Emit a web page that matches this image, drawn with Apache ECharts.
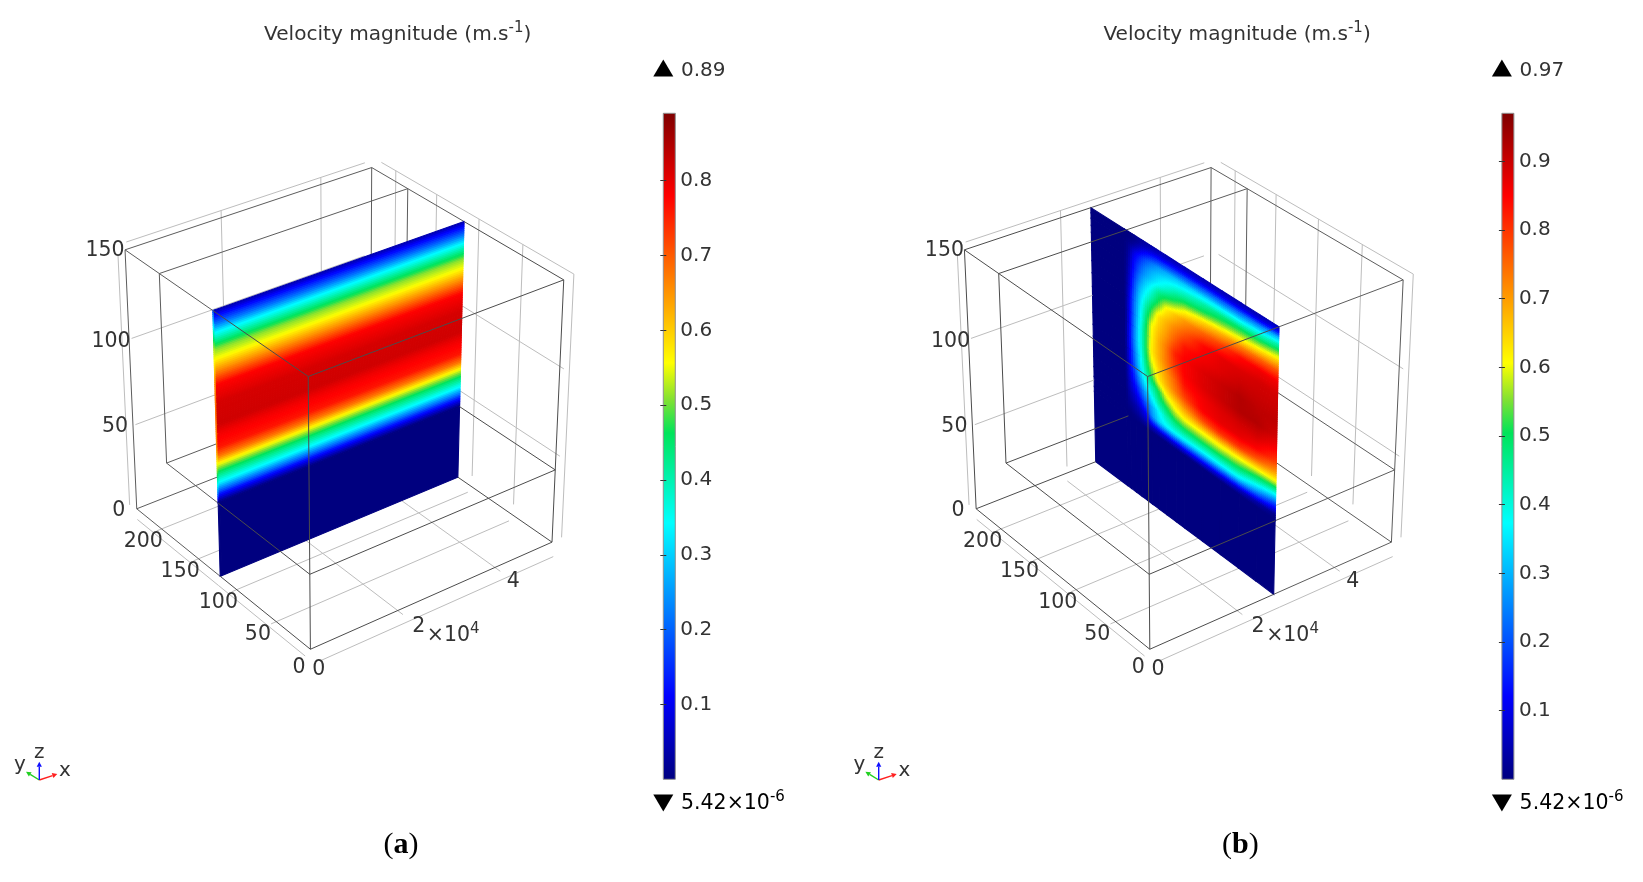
<!DOCTYPE html>
<html>
<head>
<meta charset="utf-8">
<title>Velocity magnitude</title>
<style>html,body{margin:0;padding:0;background:#fff}#main{width:1643px;height:882px}</style>
<script src="https://cdn.jsdelivr.net/npm/echarts@6/dist/echarts.min.js"></script>
</head>
<body>
<div id="main"></div>
<script>
// box extents in data units
var xMax = 51000, yMax = 225, zMax = 150;
var yWall = 180, zWall = 43;   // channel walls inside the box

var xTicks = [0, 19200, 40000];
var xTickLabels = ['0', '2', '4'];
var yTicks = [0, 50, 100, 150, 200];
var zTicks = [0, 50, 100, 150];

var barTicksA = [0.1, 0.2, 0.3, 0.4, 0.5, 0.6, 0.7, 0.8];
var barTicksB = [0.1, 0.2, 0.3, 0.4, 0.5, 0.6, 0.7, 0.8, 0.9];
var barMaxA = 0.89, barMaxB = 0.97;

// panel (a): slice at y = const, speed only varies with z (plus the thin inlet column)
var sliceYA = 112.5;
var columnXA = [0, 300, 51000];
var rowZA = [150, 147, 142, 138, 132, 128.5, 123.5, 116, 109, 103, 99, 87, 82, 74, 69, 65, 60, 54, 47, 43, 0];
var inletA = [0.30, 0.33, 0.40, 0.46, 0.52, 0.54, 0.55, 0.55, 0.55, 0.55, 0.55, 0.55, 0.55, 0.55, 0.55, 0.55, 0.52, 0.40, 0.25, 0, 0];
var coreA = [0.03, 0.11, 0.22, 0.33, 0.45, 0.51, 0.556, 0.67, 0.78, 0.80, 0.815, 0.82, 0.79, 0.76, 0.67, 0.556, 0.45, 0.33, 0.11, 0, 0];

// panel (b): slice at x = const
var sliceXB = 25400;
var columnYB = [225, 182, 177, 170, 163, 156, 149, 140, 131, 119, 108, 86, 64, 42, 21, 0];
var rowZB = [150, 147, 144, 140, 136, 131, 126, 120, 113, 105, 98, 90, 83, 76, 70, 64, 58, 52, 46, 43, 0];
var speedB = [
  [0, 0, 0, .01, .02, .03, .03, .04, .04, .04, .04, .04, .04, .04, .04, .05],
  [0, 0, 0, .01, .03, .05, .07, .08, .08, .09, .09, .09, .09, .09, .09, .12],
  [0, 0, .01, .03, .07, .11, .14, .16, .17, .18, .19, .20, .21, .22, .24, .30],
  [0, 0, .02, .09, .14, .19, .23, .27, .29, .31, .32, .34, .35, .36, .39, .44],
  [0, 0, .03, .12, .18, .24, .28, .32, .35, .38, .40, .44, .47, .49, .50, .54],
  [0, 0, .04, .14, .22, .28, .32, .37, .41, .46, .49, .52, .56, .59, .62, .66],
  [0, 0, .05, .17, .26, .33, .38, .46, .50, .54, .59, .64, .68, .72, .75, .77],
  [0, 0, .06, .20, .31, .38, .44, .52, .61, .66, .70, .75, .79, .84, .86, .86],
  [0, 0, .08, .23, .34, .44, .52, .63, .67, .72, .76, .84, .87, .88, .89, .89],
  [0, 0, .09, .24, .36, .48, .60, .66, .70, .77, .83, .86, .88, .90, .90, .90],
  [0, 0, .10, .25, .38, .50, .61, .68, .73, .82, .85, .88, .90, .92, .91, .91],
  [0, 0, .11, .26, .38, .50, .62, .68, .73, .80, .85, .88, .90, .92, .92, .89],
  [0, 0, .10, .24, .36, .48, .58, .65, .70, .76, .83, .86, .88, .89, .89, .85],
  [0, 0, .09, .22, .34, .44, .52, .62, .67, .73, .78, .85, .87, .87, .85, .79],
  [0, 0, .08, .18, .29, .38, .44, .51, .60, .65, .70, .77, .80, .80, .76, .70],
  [0, 0, .06, .13, .21, .30, .37, .46, .51, .58, .61, .62, .63, .62, .60, .58],
  [0, 0, .04, .08, .14, .22, .29, .37, .43, .48, .50, .51, .51, .50, .45, .39],
  [0, 0, .02, .04, .07, .12, .25, .33, .36, .37, .37, .36, .36, .35, .27, .18],
  [0, 0, 0, .01, .02, .04, .05, .07, .08, .09, .10, .10, .09, .07, .04, .01],
  [0, 0, 0, 0, 0, 0, 0, 0, 0, 0, 0, 0, 0, 0, 0, 0],
  [0, 0, 0, 0, 0, 0, 0, 0, 0, 0, 0, 0, 0, 0, 0, 0]
];

// ---- layout ----
var panelShift = 839.4;
var FONT = '"DejaVu Sans"';
var TXT = '#333';
var rainbowStops = [[0, [0, 0, 127]], [0.125, [0, 0, 255]], [0.385, [0, 255, 255]], [0.52, [0, 228, 90]], [0.57, [130, 225, 50]], [0.625, [255, 255, 0]], [0.875, [255, 0, 0]], [1, [127, 0, 0]]];

function rainbow(t) {
  t = Math.max(0, Math.min(1, t));
  for (var i = 1; i < rainbowStops.length; i++) {
    if (t <= rainbowStops[i][0]) {
      var a = rainbowStops[i - 1], b = rainbowStops[i], f = (t - a[0]) / (b[0] - a[0]);
      return 'rgb(' + [0, 1, 2].map(function (k) { return Math.round(a[1][k] + (b[1][k] - a[1][k]) * f); }).join(',') + ')';
    }
  }
}

// camera: fitted on the eight box corners as seen in panel (a)
var cornerView = [
  [0, yMax, zMax, 125, 250], [xMax, yMax, zMax, 371.7, 167.7], [xMax, 0, zMax, 564, 280], [0, 0, zMax, 308, 376],
  [0, yMax, 0, 136.7, 509.3], [xMax, yMax, 0, 370.5, 416], [xMax, 0, 0, 551.7, 542.7], [0, 0, 0, 310.7, 649]
];

function fitCamera(pts) {
  var rows = [];
  pts.forEach(function (p) {
    var X = p[0] / xMax, Y = p[1] / yMax, Z = p[2] / zMax, u = p[3] / 1000, v = p[4] / 1000;
    rows.push([X, Y, Z, 1, 0, 0, 0, 0, -u * X, -u * Y, -u * Z, u]);
    rows.push([0, 0, 0, 0, X, Y, Z, 1, -v * X, -v * Y, -v * Z, v]);
  });
  var n = 11, M = [];
  for (var i = 0; i < n; i++) {
    M[i] = [];
    for (var j = 0; j <= n; j++) {
      var s = 0;
      rows.forEach(function (r) { s += r[i] * r[j]; });
      M[i][j] = s;
    }
  }
  for (i = 0; i < n; i++) {
    var piv = i;
    for (j = i + 1; j < n; j++) if (Math.abs(M[j][i]) > Math.abs(M[piv][i])) piv = j;
    var tmp = M[i]; M[i] = M[piv]; M[piv] = tmp;
    for (j = 0; j < n; j++) {
      if (j === i) continue;
      var f = M[j][i] / M[i][i];
      for (var k = i; k <= n; k++) M[j][k] -= f * M[i][k];
    }
  }
  return M.map(function (r, idx) { return r[n] / r[idx]; });
}
var cam = fitCamera(cornerView);

function project(x, y, z) {
  var X = x / xMax, Y = y / yMax, Z = z / zMax;
  var w = cam[8] * X + cam[9] * Y + cam[10] * Z + 1;
  return [1000 * (cam[0] * X + cam[1] * Y + cam[2] * Z + cam[3]) / w,
          1000 * (cam[4] * X + cam[5] * Y + cam[6] * Z + cam[7]) / w];
}

// ---- box lines as 3D segments ----
var darkEdges = [
  [0, yMax, zMax, xMax, yMax, zMax], [xMax, yMax, zMax, xMax, 0, zMax], [xMax, 0, zMax, 0, 0, zMax], [0, 0, zMax, 0, yMax, zMax],
  [0, yMax, 0, xMax, yMax, 0], [xMax, yMax, 0, xMax, 0, 0], [xMax, 0, 0, 0, 0, 0], [0, 0, 0, 0, yMax, 0],
  [0, yMax, 0, 0, yMax, zMax], [xMax, yMax, 0, xMax, yMax, zMax], [xMax, 0, 0, xMax, 0, zMax], [0, 0, 0, 0, 0, zMax],
  [0, yWall, zMax, xMax, yWall, zMax], [0, yWall, zMax, 0, yWall, zWall], [xMax, yWall, zMax, xMax, yWall, zWall],
  [0, yWall, zWall, 0, 0, zWall], [0, yWall, zWall, xMax, yWall, zWall], [xMax, yWall, zWall, xMax, 0, zWall], [0, 0, zWall, xMax, 0, zWall]
];

var wallTop = 154, wallLow = 4, floorZ = -5, sideX = xMax + 900;
var lightEdges = [
  [-400, 4, floorZ, -400, 222, floorZ], [800, -7, floorZ, 50000, -7, floorZ],
  [300, yMax, wallTop, 49500, yMax, wallTop], [-1400, yMax, wallLow, -1400, yMax, 148],
  [sideX, 218, wallTop, sideX, -6, wallTop], [sideX, -6, wallLow, sideX, -6, wallTop]
];
yTicks.slice(1).forEach(function (y) {
  lightEdges.push([300, y, floorZ, xMax, y, floorZ]);
  lightEdges.push([sideX, y, wallLow, sideX, y, wallTop]);
});
xTicks.slice(1).forEach(function (x) {
  lightEdges.push([x, 2, floorZ, x, yMax, floorZ]);
  lightEdges.push([x, yMax, wallLow, x, yMax, wallTop]);
});
zTicks.slice(1, 3).forEach(function (z) {
  lightEdges.push([500, yMax, z, 49500, yMax, z]);
  lightEdges.push([sideX, 0, z, sideX, yMax - 5, z]);
});

// cut each segment on the slice plane, keep the side asked for
function sideOf(segs, axis, cut, front) {
  var out = [];
  segs.forEach(function (s) {
    var a = s[axis], b = s[axis + 3];
    if (front && Math.min(a, b) >= cut) return;
    if (!front && Math.max(a, b) <= cut) return;
    if (a === b) { out.push(s); return; }
    var lo = front ? Math.min(a, b) : Math.max(Math.min(a, b), cut);
    var hi = front ? Math.min(Math.max(a, b), cut) : Math.max(a, b);
    var pick = function (t) {
      return [0, 1, 2].map(function (k) { return s[k] + (s[k + 3] - s[k]) * (t - a) / (b - a); });
    };
    out.push(pick(lo).concat(pick(hi)));
  });
  return out;
}

function lineSeries(segs, color, width, dx, z) {
  return {
    type: 'custom', coordinateSystem: 'cartesian2d', xAxisIndex: 0, yAxisIndex: 0,
    animation: false, silent: true, clip: false, progressive: 0, z: z,
    data: segs,
    renderItem: function (params, api) {
      var a = project(api.value(0), api.value(1), api.value(2));
      var b = project(api.value(3), api.value(4), api.value(5));
      var p = api.coord([a[0] + dx, a[1]]), q = api.coord([b[0] + dx, b[1]]);
      return { type: 'line', shape: { x1: p[0], y1: p[1], x2: q[0], y2: q[1] }, style: { stroke: color, lineWidth: width, fill: null } };
    }
  };
}

// slice cells: each table cell is shaded smoothly between its four corner values
function sliceSeries(cols, rows, table, barMax, to3d, dx) {
  var cells = [];
  for (var r = 0; r < rows.length - 1; r++) {
    for (var c = 0; c < cols.length - 1; c++) {
      cells.push([cols[c], cols[c + 1], rows[r], rows[r + 1], table[r][c], table[r][c + 1], table[r + 1][c], table[r + 1][c + 1]]);
    }
  }
  return {
    type: 'custom', coordinateSystem: 'cartesian2d', xAxisIndex: 0, yAxisIndex: 0,
    animation: false, silent: true, clip: false, progressive: 0, z: 3,
    data: cells,
    renderItem: function (params, api) {
      var s0 = api.value(0), s1 = api.value(1), t0 = api.value(2), t1 = api.value(3);
      var v00 = api.value(4), v10 = api.value(5), v01 = api.value(6), v11 = api.value(7);
      var pt = function (fs, ft) {
        var m = to3d(s0 + (s1 - s0) * fs, t0 + (t1 - t0) * ft), q = project(m[0], m[1], m[2]);
        return api.coord([q[0] + dx, q[1]]);
      };
      var a = pt(0, 0), b = pt(1, 0), d = pt(0, 1);
      var flatS = v00 === v10 && v01 === v11, flatT = v00 === v01 && v10 === v11;
      var nu = flatS ? 1 : Math.max(1, Math.ceil(Math.hypot(b[0] - a[0], b[1] - a[1]) / 2.5));
      var nv = flatT ? 1 : Math.max(1, Math.ceil(Math.hypot(d[0] - a[0], d[1] - a[1]) / 2));
      var kids = [];
      for (var i = 0; i < nu; i++) {
        for (var j = 0; j < nv; j++) {
          var fu = (i + 0.5) / nu, fv = (j + 0.5) / nv;
          var val = (v00 * (1 - fu) + v10 * fu) * (1 - fv) + (v01 * (1 - fu) + v11 * fu) * fv;
          var col = rainbow(val / barMax);
          kids.push({
            type: 'polygon',
            shape: { points: [pt(i / nu, j / nv), pt((i + 1) / nu, j / nv), pt((i + 1) / nu, (j + 1) / nv), pt(i / nu, (j + 1) / nv)] },
            style: { fill: col, stroke: col, lineWidth: 1.1 }
          });
        }
      }
      return { type: 'group', children: kids };
    }
  };
}

// tick labels, anchored on the box edges
function labelSeries(items, dx) {
  return {
    type: 'custom', coordinateSystem: 'cartesian2d', xAxisIndex: 0, yAxisIndex: 0,
    animation: false, silent: true, clip: false, z: 6,
    data: items.map(function (it, i) { return [i]; }),
    renderItem: function (params, api) {
      var it = items[params.dataIndex];
      var q = project(it.at[0], it.at[1], it.at[2]);
      var p = api.coord([q[0] + dx + it.off[0], q[1] + it.off[1]]);
      return {
        type: 'text', x: p[0], y: p[1],
        style: { text: it.text, fill: TXT, font: '20.5px ' + FONT, textAlign: it.align || 'center', textVerticalAlign: 'middle', rich: it.rich }
      };
    }
  };
}

function supStyle(size, supSize) {
  return {
    b: { fontFamily: FONT, fontSize: size, fontWeight: 'normal', color: TXT, lineHeight: 28 },
    s: { fontFamily: FONT, fontSize: supSize, fontWeight: 'normal', color: TXT, lineHeight: 16, verticalAlign: 'top' }
  };
}
var tickRich = supStyle(20.5, 15);
var tickItems = [];
var zOff = [[-18, 2], [-18, 1], [-18, 2], [-20, 1]];
zTicks.forEach(function (z, i) { tickItems.push({ at: [0, yMax, z], off: zOff[i], text: String(z) }); });
yTicks.forEach(function (y) { tickItems.push({ at: [0, y, 0], off: [-11.5, 18.5], text: String(y) }); });
var xOff = [[8.3, 20.7], [14, 19], [11, 17]];
xTicks.forEach(function (x, i) { tickItems.push({ at: [x, 0, 0], off: xOff[i], text: xTickLabels[i] }); });
tickItems.push({ at: [19200, 0, 0], off: [22, 28], text: '{b|×10}{s|4}', rich: tickRich, align: 'left' });

function boxSeries(dx, cutAxis, cut, slice) {
  return [
    lineSeries(sideOf(lightEdges, cutAxis, cut, false), '#bdbdbd', 1, dx, 2),
    lineSeries(sideOf(darkEdges, cutAxis, cut, false), '#5c5c5c', 1, dx, 2.5),
    slice,
    lineSeries(sideOf(lightEdges, cutAxis, cut, true), '#bdbdbd', 1, dx, 4),
    lineSeries(sideOf(darkEdges, cutAxis, cut, true), '#4c4c4c', 1, dx, 4.5),
    labelSeries(tickItems, dx)
  ];
}

var tableA = rowZA.map(function (z, i) { return [inletA[i], coreA[i], coreA[i]]; });
var sliceA = sliceSeries(columnXA, rowZA, tableA, barMaxA, function (x, z) { return [x, sliceYA, z]; }, 0);
var sliceB = sliceSeries(columnYB, rowZB, speedB, barMaxB, function (y, z) { return [sliceXB, y, z]; }, panelShift);

// ---- colour bars ----
var barTop = 113.3, barHeight = 666;
var gridList = [
  { left: 0, top: 0, width: 1643, height: 882, show: false },
  { left: 663.3, top: barTop, width: 12, height: barHeight, show: false },
  { left: 663.3 + 838.6, top: barTop, width: 12, height: barHeight, show: false }
];
var xAxisList = [
  { type: 'value', gridIndex: 0, min: 0, max: 1643, show: false },
  { type: 'value', gridIndex: 1, min: 0, max: 1, show: false },
  { type: 'value', gridIndex: 2, min: 0, max: 1, show: false }
];
var yAxisList = [{ type: 'value', gridIndex: 0, min: 0, max: 882, inverse: true, show: false }];
function barAxes(grid, max, ticks) {
  var base = { type: 'value', gridIndex: grid, min: 0, max: max, z: 8, splitLine: { show: false }, axisLine: { show: false } };
  yAxisList.push(Object.assign({}, base, {
    position: 'right',
    axisTick: { inside: true, length: 3, lineStyle: { color: '#333' }, customValues: ticks },
    axisLabel: { margin: 5, fontFamily: FONT, fontSize: 20, color: TXT, customValues: ticks, formatter: function (v) { return v.toFixed(1); } }
  }));
  yAxisList.push(Object.assign({}, base, {
    position: 'left',
    axisTick: { inside: true, length: 3, lineStyle: { color: '#333' }, customValues: ticks },
    axisLabel: { show: false }
  }));
}
barAxes(1, barMaxA, barTicksA);
barAxes(2, barMaxB, barTicksB);

function barSeries(xIdx, yIdx, max) {
  var stops = rainbowStops.map(function (s) { return { offset: 1 - s[0], color: 'rgb(' + s[1].join(',') + ')' }; }).reverse();
  return {
    type: 'custom', coordinateSystem: 'cartesian2d', xAxisIndex: xIdx, yAxisIndex: yIdx,
    animation: false, silent: true, z: 3,
    data: [[0, 0, 1, max]],
    renderItem: function (params, api) {
      var p = api.coord([api.value(0), api.value(3)]), q = api.coord([api.value(2), api.value(1)]);
      return {
        type: 'rect', shape: { x: p[0], y: p[1], width: q[0] - p[0], height: q[1] - p[1] },
        style: { fill: new echarts.graphic.LinearGradient(0, 0, 0, 1, stops), stroke: '#8f8f8f', lineWidth: 1 }
      };
    }
  };
}

// ---- annotations ----
function markers(dx, maxText) {
  var tx = 681 + dx;
  return [
    { type: 'polygon', shape: { points: [[663.3 + dx, 59.5], [673.3 + dx, 76.5], [653.3 + dx, 76.5]] }, style: { fill: '#000' } },
    { type: 'polygon', shape: { points: [[653.3 + dx, 794.5], [673.3 + dx, 794.5], [663.3 + dx, 811.5]] }, style: { fill: '#000' } },
    { type: 'text', x: tx, y: 71, style: { text: maxText, fill: TXT, font: '20px ' + FONT, textVerticalAlign: 'middle' } },
    { type: 'text', x: tx, y: 803.5, style: { text: '{b|5.42×10}{s|-6}', textVerticalAlign: 'middle', rich: tickRich } }
  ];
}
function triad(dx) {
  var o = [39.3 + dx, 780];
  var arrow = function (e, color) {
    var ang = Math.atan2(e[1] - o[1], e[0] - o[0]), h = 5, w = 2.6;
    var bx = e[0] - h * Math.cos(ang), by = e[1] - h * Math.sin(ang);
    return [
      { type: 'line', shape: { x1: o[0], y1: o[1], x2: bx, y2: by }, style: { stroke: color, lineWidth: 1.4 } },
      { type: 'polygon', shape: { points: [e, [bx - w * Math.sin(ang), by + w * Math.cos(ang)], [bx + w * Math.sin(ang), by - w * Math.cos(ang)]] }, style: { fill: color } }
    ];
  };
  var axisText = function (t, x, y) {
    return { type: 'text', x: x + dx, y: y, style: { text: t, fill: TXT, font: '20px ' + FONT, textAlign: 'center', textVerticalAlign: 'middle' } };
  };
  return arrow([57.3 + dx, 774], '#ff2020').concat(arrow([26 + dx, 771.7], '#20d020'), arrow([39.3 + dx, 761.7], '#1010ff'),
    [axisText('x', 65, 770.7), axisText('y', 20, 765), axisText('z', 39.3, 753)]);
}

var titleRich = supStyle(20.1, 15);
var capRich = {
  p: { fontFamily: '"Liberation Serif"', fontSize: 30, fontWeight: 'normal', color: '#000' },
  k: { fontFamily: '"Liberation Serif"', fontSize: 30, fontWeight: 'bold', color: '#000' }
};

var myChart = echarts.init(document.getElementById('main'), null, { renderer: 'canvas' });
myChart.setOption({
  animation: false,
  backgroundColor: '#fff',
  title: [
    { text: '{b|Velocity magnitude (m.s}{s|-1}{b|)}', left: 264, top: 21, padding: 0, textStyle: { fontWeight: 'normal', rich: titleRich } },
    { text: '{b|Velocity magnitude (m.s}{s|-1}{b|)}', left: 264 + panelShift, top: 21, padding: 0, textStyle: { fontWeight: 'normal', rich: titleRich } },
    { text: '{p|(}{k|a}{p|)}', left: 401, top: 845, textAlign: 'center', textVerticalAlign: 'middle', padding: 0, textStyle: { fontWeight: 'normal', rich: capRich } },
    { text: '{p|(}{k|b}{p|)}', left: 401 + panelShift, top: 845, textAlign: 'center', textVerticalAlign: 'middle', padding: 0, textStyle: { fontWeight: 'normal', rich: capRich } }
  ],
  grid: gridList,
  xAxis: xAxisList,
  yAxis: yAxisList,
  graphic: { elements: markers(0, '0.89').concat(markers(838.6, '0.97'), triad(0), triad(panelShift)) },
  series: boxSeries(0, 1, sliceYA, sliceA).concat(
    boxSeries(panelShift, 0, sliceXB, sliceB),
    [barSeries(1, 1, barMaxA), barSeries(2, 3, barMaxB)]
  )
});
</script>
</body>
</html>
